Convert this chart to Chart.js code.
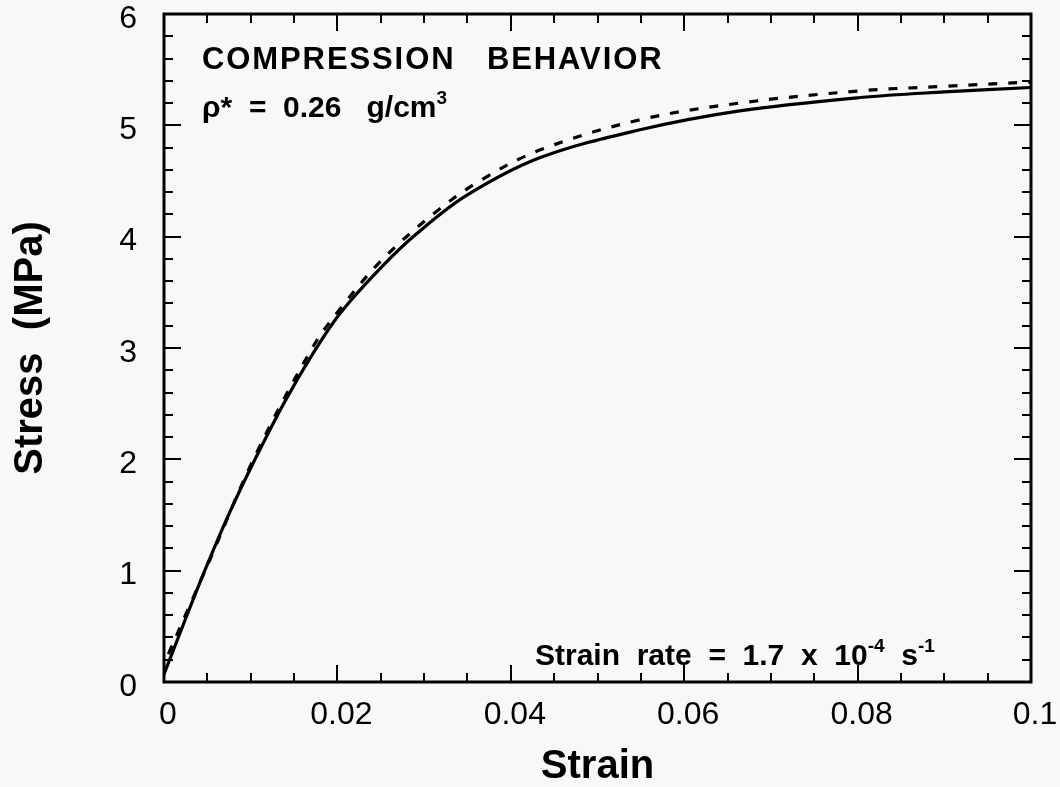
<!DOCTYPE html>
<html>
<head>
<meta charset="utf-8">
<script src="https://cdn.jsdelivr.net/npm/chart.js@4"></script>
<style>
html,body{margin:0;padding:0;background:#f8f8f8;}
#wrap{width:1060px;height:787px;position:relative;}
</style>
</head>
<body>
<div id="wrap"><canvas id="c" width="1060" height="787"></canvas></div>
<script>
// ---- data ----
const strainSolid = [0, 0.0025, 0.0047, 0.0075, 0.0105, 0.0138, 0.0171, 0.0203, 0.025, 0.0292, 0.0349, 0.0434, 0.0549, 0.0664, 0.0803, 0.09, 0.1];
const stressSolid = [0.07, 0.57, 1.0, 1.51, 2.0, 2.5, 2.94, 3.31, 3.72, 4.03, 4.37, 4.71, 4.96, 5.13, 5.25, 5.30, 5.34];
const strainDashed = [0.0005, 0.0027, 0.0053, 0.0105, 0.0171, 0.0203, 0.025, 0.031, 0.0364, 0.0434, 0.0549, 0.0664, 0.0803, 0.09, 0.1];
const stressDashed = [0.25, 0.64, 1.1, 2.03, 3.0, 3.35, 3.78, 4.2, 4.5, 4.78, 5.05, 5.20, 5.31, 5.35, 5.39];
const xTickLabels = ['0', '0.02', '0.04', '0.06', '0.08', '0.1'];
const yTickLabels = ['0', '1', '2', '3', '4', '5', '6'];
const xTitle = 'Strain';
const yTitle = 'Stress  (MPa)';
const noteTitle = 'COMPRESSION   BEHAVIOR';
const noteDensity = [['ρ*  =  0.26   g/cm', false], ['3', true]];
const noteRate = [['Strain  rate  =  1.7  x  10', false], ['-4', true], ['  s', false], ['-1', true]];

const FONT = '"Liberation Sans", Arial, Helvetica, sans-serif';

const toPts = (xs, ys) => xs.map((x, i) => ({x: x, y: ys[i]}));

function drawRuns(ctx, runs, x, y, size) {
  let cx = x;
  for (const [t, sup] of runs) {
    if (sup) {
      ctx.font = 'bold ' + Math.round(size * 0.62) + 'px ' + FONT;
      ctx.fillText(t, cx, y - size * 0.42);
    } else {
      ctx.font = 'bold ' + size + 'px ' + FONT;
      ctx.fillText(t, cx, y);
    }
    cx += ctx.measureText(t).width;
  }
}

const framePlugin = {
  id: 'framePlugin',
  afterDatasetsDraw(chart) {
    const {ctx, chartArea: a, scales: {x, y}} = chart;
    ctx.save();
    ctx.strokeStyle = '#000';
    ctx.lineCap = 'butt';
    const xv = x.ticks.map(t => t.value);
    ctx.lineWidth = 2;
    for (let i = 0; i < xv.length; i++) {
      const px = Math.round(x.getPixelForValue(xv[i]));
      ctx.beginPath();
      ctx.moveTo(px, a.bottom); ctx.lineTo(px, a.bottom - 17);
      ctx.moveTo(px, a.top); ctx.lineTo(px, a.top + 17);
      ctx.stroke();
      if (i < xv.length - 1) {
        for (let k = 1; k < 4; k++) {
          const v = xv[i] + (xv[i + 1] - xv[i]) * k / 4;
          const p = Math.round(x.getPixelForValue(v));
          ctx.beginPath();
          ctx.moveTo(p, a.bottom); ctx.lineTo(p, a.bottom - 9);
          ctx.moveTo(p, a.top); ctx.lineTo(p, a.top + 9);
          ctx.stroke();
        }
      }
    }
    const yv = y.ticks.map(t => t.value);
    for (let i = 0; i < yv.length; i++) {
      const py = Math.round(y.getPixelForValue(yv[i]));
      ctx.beginPath();
      ctx.moveTo(a.left, py); ctx.lineTo(a.left + 17, py);
      ctx.moveTo(a.right, py); ctx.lineTo(a.right - 17, py);
      ctx.stroke();
      if (i < yv.length - 1) {
        for (let k = 1; k < 5; k++) {
          const v = yv[i] + (yv[i + 1] - yv[i]) * k / 5;
          const p = Math.round(y.getPixelForValue(v));
          ctx.beginPath();
          ctx.moveTo(a.left, p); ctx.lineTo(a.left + 9, p);
          ctx.moveTo(a.right, p); ctx.lineTo(a.right - 9, p);
          ctx.stroke();
        }
      }
    }
    ctx.lineWidth = 3;
    ctx.strokeRect(a.left, a.top, a.right - a.left, a.bottom - a.top);

    ctx.fillStyle = '#000';
    ctx.textBaseline = 'alphabetic';
    ctx.textAlign = 'left';
    ctx.font = 'bold 31px ' + FONT;
    ctx.letterSpacing = '1.9px';
    ctx.fillText(noteTitle, a.left + 38, 69);
    ctx.letterSpacing = '0px';
    drawRuns(ctx, noteDensity, a.left + 38, 117, 30);
    drawRuns(ctx, noteRate, a.left + 371, 665, 30);
    ctx.restore();
  }
};

new Chart(document.getElementById('c'), {
  type: 'line',
  data: {
    datasets: [
      {
        label: 'solid',
        data: toPts(strainSolid, stressSolid),
        borderColor: '#000',
        borderWidth: 3.2,
        pointRadius: 0,
        fill: false,
        tension: 0.35
      },
      {
        label: 'dashed',
        data: toPts(strainDashed, stressDashed),
        borderColor: '#000',
        borderWidth: 3.2,
        borderDash: [9, 11],
        pointRadius: 0,
        fill: false,
        tension: 0.35
      }
    ]
  },
  options: {
    responsive: false,
    animation: false,
    events: [],
    layout: {padding: {top: 14, right: 29, left: 0, bottom: 0}},
    plugins: {legend: {display: false}, tooltip: {enabled: false}, title: {display: false}},
    scales: {
      x: {
        type: 'linear',
        min: 0, max: 0.1,
        grid: {display: false, drawTicks: false},
        border: {display: false},
        ticks: {
          stepSize: 0.02,
          padding: 14,
          labelOffset: 4,
          color: '#000',
          font: {family: FONT, size: 32},
          maxRotation: 0,
          autoSkip: false,
          callback: (v, i) => xTickLabels[i]
        },
        title: {
          display: true, text: xTitle, color: '#000',
          font: {family: FONT, size: 40, weight: 'bold', lineHeight: 1},
          padding: {top: 0, bottom: 0}
        },
        afterFit: s => { s.height = 105; s.paddingLeft = 0; s.paddingRight = 0; }
      },
      y: {
        type: 'linear',
        min: 0, max: 6,
        grid: {display: false, drawTicks: false},
        border: {display: false},
        ticks: {
          stepSize: 1,
          padding: 27,
          labelOffset: 5,
          color: '#000',
          font: {family: FONT, size: 32},
          callback: (v, i) => yTickLabels[i]
        },
        title: {
          display: true, text: yTitle, color: '#000',
          font: {family: FONT, size: 40, weight: 'bold', lineHeight: 1},
          padding: {top: 11, bottom: 0}
        },
        afterFit: s => { s.width = 164; s.paddingTop = 0; s.paddingBottom = 0; }
      }
    }
  },
  plugins: [framePlugin]
});
</script>
</body>
</html>
